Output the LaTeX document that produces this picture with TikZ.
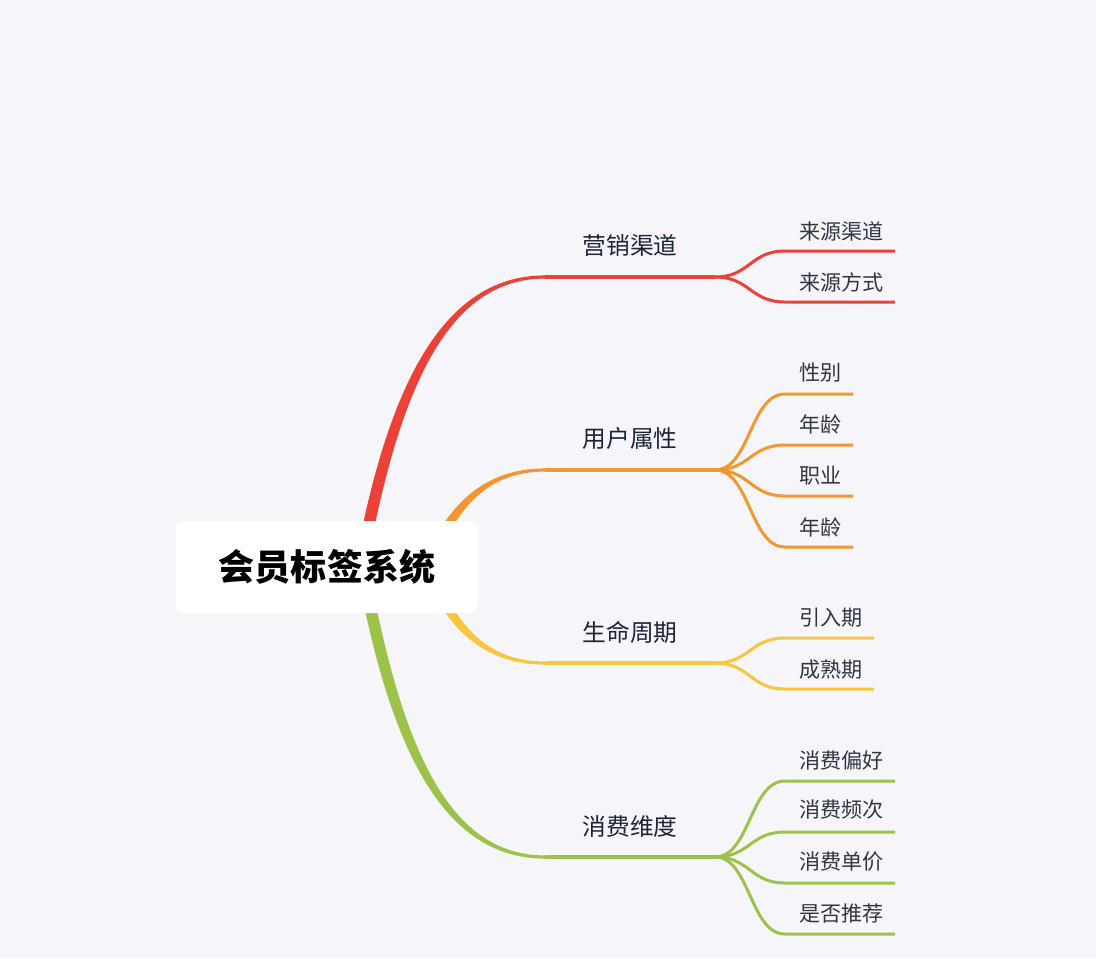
\documentclass[tikz,border=0pt]{standalone}
\usepackage{fontspec}
\usepackage{tikz}
\usetikzlibrary{calc}
\newfontfamily\cjk{Noto Sans CJK SC}
\definecolor{PageBg}{HTML}{F5F5FA}
\definecolor{TagRed}{HTML}{EC4136}
\definecolor{TagOrange}{HTML}{F3962F}
\definecolor{TagYellow}{HTML}{F8C63C}
\definecolor{TagGreen}{HTML}{9DC24A}
\definecolor{InkNavy}{HTML}{1B2535}
\definecolor{InkGray}{HTML}{2F3642}

\begin{document}
\begin{tikzpicture}[
    x=0.02cm, y=-0.02cm,
    root/.style={fill=white, rounded corners=4.5pt, minimum width=6.04cm, minimum height=1.84cm,
                 font=\cjk\bfseries\fontsize{20.5}{24}\selectfont, text=black},
    topic/.style={font=\cjk\fontsize{13.5}{16}\selectfont, text=InkNavy},
    leaf/.style={font=\cjk\fontsize{12}{14}\selectfont, text=InkGray, anchor=west},
    bar/.style={line width=1.9pt},
    twig/.style={line width=1.7pt}
]
\fill[PageBg] (0,0) rectangle (1096,958);
\useasboundingbox (0,0) rectangle (1096,958);

% === Anchor points ===
\coordinate (rb) at (360,570);  \coordinate (re) at (545,277);  \coordinate (rs) at (715,277);
\coordinate (ob) at (430,560);  \coordinate (oe) at (545,470);  \coordinate (os) at (715,470);
\coordinate (yb) at (430,574);  \coordinate (ye) at (545,663);  \coordinate (ys) at (715,663);
\coordinate (gb) at (362,564);  \coordinate (ge) at (545,857);  \coordinate (gs) at (715,857);

% === Trunks (tapered) ===
\fill[TagRed] ($(rb)+(-6,0)$) .. controls (388,380) and (445,275.5) .. ($(re)+(0,-1.6)$)
    -- ($(re)+(0,1.6)$) .. controls (450,278.5) and (400,382) .. ($(rb)+(6,0)$) -- cycle;
\fill[TagOrange] ($(ob)+(-6,0)$) .. controls (450,500) and (488,468.5) .. ($(oe)+(0,-1.6)$)
    -- ($(oe)+(0,1.6)$) .. controls (492,471.5) and (460,502) .. ($(ob)+(6,0)$) -- cycle;
\fill[TagYellow] ($(yb)+(-6,0)$) .. controls (450,634) and (488,664.5) .. ($(ye)+(0,1.6)$)
    -- ($(ye)+(0,-1.6)$) .. controls (492,661.5) and (460,632) .. ($(yb)+(6,0)$) -- cycle;
\fill[TagGreen] ($(gb)+(-6,0)$) .. controls (390,754) and (445,858.5) .. ($(ge)+(0,1.6)$)
    -- ($(ge)+(0,-1.6)$) .. controls (450,855.5) and (402,752) .. ($(gb)+(6,0)$) -- cycle;

% === Root ===
\node[root] (root) at (327,567) {会员标签系统};

% === 营销渠道 ===
\draw[bar, TagRed] (re) -- (rs);
\node[topic] (t1) at (630,245) {营销渠道};
\coordinate (r1a) at (785,251); \coordinate (r1b) at (895,251);
\coordinate (r2a) at (785,302); \coordinate (r2b) at (895,302);
\draw[twig, TagRed] (rs) .. controls +(35,0) and +(-35,0) .. (r1a) -- (r1b);
\draw[twig, TagRed] (rs) .. controls +(35,0) and +(-35,0) .. (r2a) -- (r2b);
\node[leaf] (l11) at (793,231) {来源渠道};
\node[leaf] (l12) at (793,282) {来源方式};

% === 用户属性 ===
\draw[bar, TagOrange] (oe) -- (os);
\node[topic] (t2) at (630,438) {用户属性};
\coordinate (o1a) at (785,394); \coordinate (o1b) at (853,394);
\coordinate (o2a) at (785,445); \coordinate (o2b) at (853,445);
\coordinate (o3a) at (785,496); \coordinate (o3b) at (853,496);
\coordinate (o4a) at (785,547); \coordinate (o4b) at (853,547);
\draw[twig, TagOrange] (os) .. controls +(35,0) and +(-35,0) .. (o1a) -- (o1b);
\draw[twig, TagOrange] (os) .. controls +(35,0) and +(-35,0) .. (o2a) -- (o2b);
\draw[twig, TagOrange] (os) .. controls +(35,0) and +(-35,0) .. (o3a) -- (o3b);
\draw[twig, TagOrange] (os) .. controls +(35,0) and +(-35,0) .. (o4a) -- (o4b);
\node[leaf] (l21) at (793,373) {性别};
\node[leaf] (l22) at (793,424) {年龄};
\node[leaf] (l23) at (793,476) {职业};
\node[leaf] (l24) at (793,527) {年龄};

% === 生命周期 ===
\draw[bar, TagYellow] (ye) -- (ys);
\node[topic] (t3) at (630,632) {生命周期};
\coordinate (y1a) at (785,638); \coordinate (y1b) at (874,638);
\coordinate (y2a) at (785,689); \coordinate (y2b) at (874,689);
\draw[twig, TagYellow] (ys) .. controls +(35,0) and +(-35,0) .. (y1a) -- (y1b);
\draw[twig, TagYellow] (ys) .. controls +(35,0) and +(-35,0) .. (y2a) -- (y2b);
\node[leaf] (l31) at (793,618) {引入期};
\node[leaf] (l32) at (793,669) {成熟期};

% === 消费维度 ===
\draw[bar, TagGreen] (ge) -- (gs);
\node[topic] (t4) at (630,826) {消费维度};
\coordinate (g1a) at (785,781); \coordinate (g1b) at (895,781);
\coordinate (g2a) at (785,832); \coordinate (g2b) at (895,832);
\coordinate (g3a) at (785,883); \coordinate (g3b) at (895,883);
\coordinate (g4a) at (785,934); \coordinate (g4b) at (895,934);
\draw[twig, TagGreen] (gs) .. controls +(35,0) and +(-35,0) .. (g1a) -- (g1b);
\draw[twig, TagGreen] (gs) .. controls +(35,0) and +(-35,0) .. (g2a) -- (g2b);
\draw[twig, TagGreen] (gs) .. controls +(35,0) and +(-35,0) .. (g3a) -- (g3b);
\draw[twig, TagGreen] (gs) .. controls +(35,0) and +(-35,0) .. (g4a) -- (g4b);
\node[leaf] (l41) at (793,760) {消费偏好};
\node[leaf] (l42) at (793,810) {消费频次};
\node[leaf] (l43) at (793,862) {消费单价};
\node[leaf] (l44) at (793,913) {是否推荐};
\end{tikzpicture}
\end{document}
